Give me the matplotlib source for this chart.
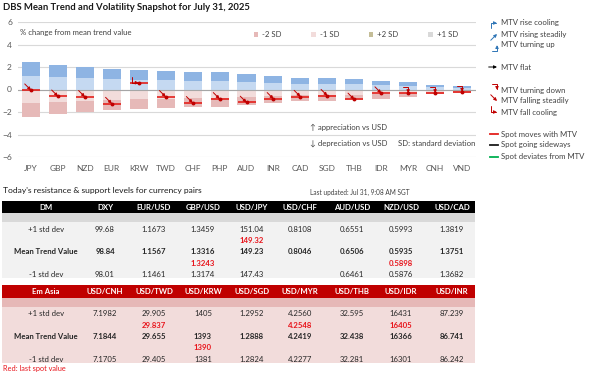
import matplotlib.pyplot as plt
from matplotlib.patches import Patch, Rectangle
from matplotlib.lines import Line2D

plt.rcParams['font.family'] = ['Lato', 'DejaVu Sans']

# === CHART DATA (% change from mean trend value) ===
currencies = ["JPY", "GBP", "NZD", "EUR", "KRW", "TWD", "CHF", "PHP", "AUD",
              "INR", "CAD", "SGD", "THB", "IDR", "MYR", "CNH", "VND"]
one_sd = [1.21, 1.07, 0.98, 0.92, 0.87, 0.84, 0.77, 0.79, 0.69,
          0.58, 0.50, 0.50, 0.48, 0.40, 0.34, 0.20, 0.14]
spot = [-0.06, -0.60, -0.65, -1.25, 0.60, -0.65, -1.18, -0.83, -1.15,
        -0.83, -0.63, -0.55, -0.88, -0.32, -0.33, -0.33, -0.22]
trend = ["fall", "fall", "fall", "fall", "fall_cool", "fall", "fall", "fall", "fall",
         "fall", "fall", "fall", "fall", "fall", "turn_down", "turn_down", "turn_down"]

legend_kinds = ["rise_cool", "rise", "turn_up", "flat", "turn_down", "fall", "fall_cool"]
legend_labels = ["MTV rise cooling", "MTV rising steadily", "MTV turning up", "MTV flat",
                 "MTV turning down", "MTV falling steadily", "MTV fall cooling"]
spot_labels = ["Spot moves with MTV", "Spot going sideways", "Spot deviates from MTV"]

# === TABLE DATA ===
dm_pairs = ["DXY", "EUR/USD", "GBP/USD", "USD/JPY", "USD/CHF", "AUD/USD", "NZD/USD", "USD/CAD"]
dm_up = ["99.68", "1.1673", "1.3459", "151.04", "0.8108", "0.6551", "0.5993", "1.3819"]
dm_spot_hi = ["", "", "", "149.32", "", "", "", ""]
dm_mean = ["98.84", "1.1567", "1.3316", "149.23", "0.8046", "0.6506", "0.5935", "1.3751"]
dm_spot_lo = ["", "", "1.3243", "", "", "", "0.5898", ""]
dm_down = ["98.01", "1.1461", "1.3174", "147.43", "", "0.6461", "0.5876", "1.3682"]

em_pairs = ["USD/CNH", "USD/TWD", "USD/KRW", "USD/SGD", "USD/MYR", "USD/THB", "USD/IDR", "USD/INR"]
em_up = ["7.1982", "29.905", "1405", "1.2952", "4.2560", "32.595", "16431", "87.239"]
em_spot_hi = ["", "29.837", "", "", "4.2548", "", "16405", ""]
em_mean = ["7.1844", "29.655", "1393", "1.2888", "4.2419", "32.438", "16366", "86.741"]
em_spot_lo = ["", "", "1390", "", "", "", "", ""]
em_down = ["7.1705", "29.405", "1381", "1.2824", "4.2277", "32.281", "16301", "86.242"]

# === STYLE ===
BLUE_DARK = "#8EB4E3"
BLUE_LIGHT = "#C5D9F1"
PINK_LIGHT = "#F2DCDB"
PINK_DARK = "#E6B9B8"
RED_LINE = "#E3201B"
RED_ARROW = "#C00000"
BLUE_ARROW = "#2E75B6"
GRID = "#D9D9D9"
TXT = "#404040"
FS = 5.6

W, H = 605, 378
fig = plt.figure(figsize=(W / 100, H / 100), dpi=100)

ICONS = {
    "rise_cool": ((-4.5, -3.5), "angle,angleA=90,angleB=0,rad=0"),
    "rise": ((-4.5, -4.5), "arc3"),
    "turn_up": ((-3.5, -4.5), "angle,angleA=0,angleB=90,rad=0"),
    "flat": ((-6, 0), "arc3"),
    "turn_down": ((-3.5, 4.5), "angle,angleA=0,angleB=90,rad=0"),
    "fall": ((-4.5, 4.5), "arc3"),
    "fall_cool": ((-4.5, 4), "angle,angleA=90,angleB=0,rad=0"),
}


def icon_color(kind):
    if kind.startswith("rise") or kind == "turn_up":
        return BLUE_ARROW
    if kind == "flat":
        return "black"
    return RED_ARROW


def draw_icon(axis, xy, kind, zorder=5):
    off, conn = ICONS[kind]
    axis.annotate("", xy=xy, xytext=off, textcoords="offset points",
                  arrowprops=dict(arrowstyle="-|>,head_length=0.22,head_width=0.11",
                                  mutation_scale=8, color=icon_color(kind), lw=0.7,
                                  shrinkA=0, shrinkB=0, connectionstyle=conn),
                  zorder=zorder)


# === CHART ===
ax = fig.add_axes([17.5 / W, 1 - 157 / H, 458 / W, 135 / H])
x = list(range(len(currencies)))
neg_sd = [-v for v in one_sd]
bw = 0.67
ax.bar(x, one_sd, bw, color=BLUE_LIGHT, zorder=2)
ax.bar(x, one_sd, bw, bottom=one_sd, color=BLUE_DARK, zorder=2)
ax.bar(x, neg_sd, bw, color=PINK_LIGHT, zorder=2)
ax.bar(x, neg_sd, bw, bottom=neg_sd, color=PINK_DARK, zorder=2)
ax.axhline(0, color="#A6A6A6", lw=0.8, zorder=3)

ax.plot(x, spot, ls="none", marker="_", ms=13.5, mew=1.2, color=RED_LINE, zorder=4)
ax.plot(x, spot, ls="none", marker="o", ms=1.8, color=RED_ARROW, zorder=6)
for i, s, k in zip(x, spot, trend):
    draw_icon(ax, (i, s), k)

ax.set_xlim(-0.5, len(currencies) - 0.5)
ax.set_ylim(-6, 6)
ax.set_yticks([-6, -4, -2, 0, 2, 4, 6])
ax.set_xticks(x)
ax.set_xticklabels(currencies)
ax.grid(axis="y", color=GRID, lw=0.8, zorder=0)
ax.set_axisbelow(True)
ax.tick_params(length=0, labelsize=6, labelcolor="#595959", pad=4)
ax.tick_params(axis="x", pad=6)
for sp in ax.spines.values():
    sp.set_visible(False)

sd_handles = [Patch(facecolor=PINK_DARK), Patch(facecolor=PINK_LIGHT),
              Patch(facecolor="#C4BD97"), Patch(facecolor="#D9D9D9")]
ax.legend(sd_handles, ["-2 SD", "-1 SD", "+2 SD", "+1 SD"], ncol=4, frameon=False,
          loc="upper left", bbox_to_anchor=(0.5, 0.985), fontsize=FS,
          handlelength=0.6, handleheight=0.6, handletextpad=0.5, columnspacing=3.8,
          labelcolor=TXT)

# === OVERLAY (pixel coordinates) ===
ov = fig.add_axes([0, 0, 1, 1])
ov.set_xlim(0, W)
ov.set_ylim(H, 0)
ov.axis("off")
ov.patch.set_visible(False)

ov.text(3, 8, "DBS Mean Trend and Volatility Snapshot for July 31, 2025",
        fontsize=6.8, fontweight="bold", va="center", color="#1a1a1a")
ov.text(20, 33, "% change from mean trend value", fontsize=FS, va="center", color=TXT)
ov.text(310, 127, "\u2191 appreciation vs USD", fontsize=FS, va="center", color=TXT)
ov.text(310, 143, "\u2193 depreciation vs USD", fontsize=FS, va="center", color=TXT)
ov.text(398, 143, "SD: standard deviation", fontsize=FS, va="center", color=TXT)

# right-hand legend
icon_y = [23, 34, 45, 67, 90, 101, 112]
for yy, k, lab in zip(icon_y, legend_kinds, legend_labels):
    draw_icon(ov, (497, yy), k)
    ov.text(501, yy, lab, fontsize=FS, va="center", color=TXT)
for yy, c, lab in zip([134, 145, 157], [RED_LINE, "#1a1a1a", "#00B050"], spot_labels):
    ov.add_line(Line2D([490, 498], [yy, yy], color=c, lw=1.3))
    ov.text(501, yy, lab, fontsize=FS, va="center", color=TXT)

# === TABLES ===
ov.text(3, 190, "Today's resistance & support levels for currency pairs",
        fontsize=6.1, va="center", color="#1a1a1a")
ov.text(410, 192, "Last updated: Jul 31, 9:08 AM SGT", fontsize=4.7, va="center",
        ha="right", color=TXT)

col_x = [46, 105, 154, 203, 252, 300, 352, 401, 452]
row_off = [7.5, 18.5, 30, 41, 52.5]
TFS = 5.6


def draw_table(top, title, pairs, rows, head_col, sub_col, body_col):
    ov.add_patch(Rectangle((2, top), 473, 12.5, color=head_col, lw=0))
    ov.add_patch(Rectangle((2, top + 12.5), 473, 9, color=sub_col, lw=0))
    ov.add_patch(Rectangle((2, top + 21.5), 473, 56, color=body_col, lw=0))
    ov.text(col_x[0], top + 6.5, title, fontsize=TFS, fontweight="bold", color="white",
            ha="center", va="center")
    for cx, p in zip(col_x[1:], pairs):
        ov.text(cx, top + 6.5, p, fontsize=TFS, fontweight="bold", color="white",
                ha="center", va="center")
    labels = ["+1 std dev", "", "Mean Trend Value", "", "-1 std dev"]
    for r, (off, lab, vals) in enumerate(zip(row_off, labels, rows)):
        yy = top + 21.5 + off
        is_spot = r in (1, 3)
        bold = r == 2 or is_spot
        col = "#E8141B" if is_spot else "#262626"
        if lab:
            ov.text(col_x[0], yy, lab, fontsize=TFS, ha="center", va="center",
                    fontweight="bold" if bold else "normal", color=col)
        for cx, v in zip(col_x[1:], vals):
            ov.text(cx, yy, v, fontsize=TFS, ha="center", va="center",
                    fontweight="bold" if bold else "normal", color=col)


draw_table(200.5, "DM", dm_pairs, [dm_up, dm_spot_hi, dm_mean, dm_spot_lo, dm_down],
           "black", "#D9D9D9", "#F2F2F2")
draw_table(285, "Em Asia", em_pairs, [em_up, em_spot_hi, em_mean, em_spot_lo, em_down],
           "#C00000", "#E6B8B7", "#F2DCDB")
ov.text(3, 369, "Red: last spot value", fontsize=5.3, va="center", color="#E8141B")

fig.savefig("out.png", dpi=100)
